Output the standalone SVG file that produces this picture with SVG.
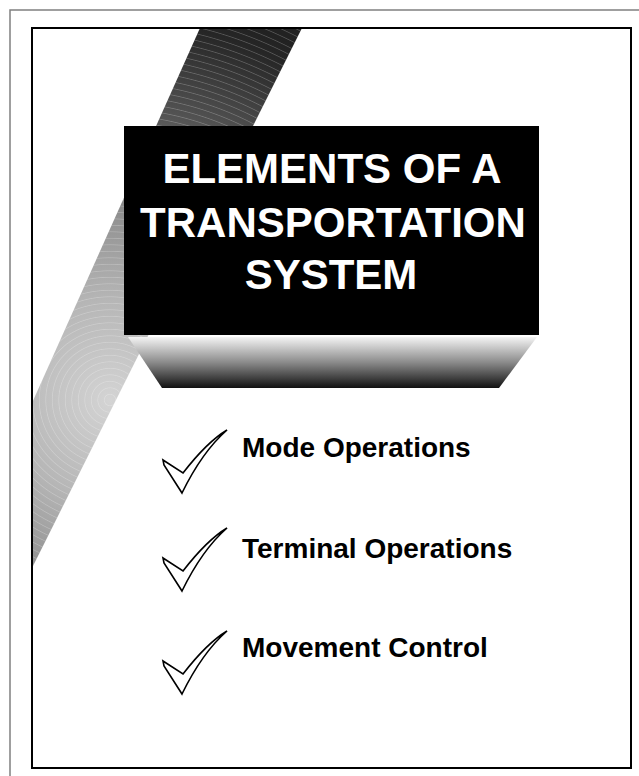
<svg xmlns="http://www.w3.org/2000/svg" width="639" height="776" viewBox="0 0 639 776">
<style>
.title{font-family:"Liberation Sans",Arial,sans-serif;font-weight:bold;font-size:42px;fill:#fff;text-anchor:middle}
.item{font-family:"Liberation Sans",Arial,sans-serif;font-weight:bold;font-size:28px;fill:#000}
.check{fill:#fff;stroke:#000;stroke-width:1.6;stroke-linejoin:miter}
</style>
<defs>
<radialGradient id="bandGrad" gradientUnits="userSpaceOnUse" cx="110" cy="400" r="400">
<stop offset="0" stop-color="#d4d4d4"/>
<stop offset="0.25" stop-color="#b6b6b6"/>
<stop offset="0.45" stop-color="#939393"/>
<stop offset="0.72" stop-color="#555"/>
<stop offset="0.95" stop-color="#262626"/>
<stop offset="1" stop-color="#222"/>
</radialGradient>
<radialGradient id="rings" gradientUnits="userSpaceOnUse" cx="110" cy="400" r="6.5" spreadMethod="repeat">
<stop offset="0" stop-color="#fff" stop-opacity="0"/>
<stop offset="0.75" stop-color="#fff" stop-opacity="0"/>
<stop offset="0.88" stop-color="#fff" stop-opacity="0.22"/>
<stop offset="1" stop-color="#fff" stop-opacity="0"/>
</radialGradient>
<linearGradient id="shadeGrad" x1="0" y1="0" x2="0" y2="1">
<stop offset="0" stop-color="#f4f4f4"/>
<stop offset="0.5" stop-color="#8a8a8a"/>
<stop offset="1" stop-color="#111"/>
</linearGradient>
<path id="tick" class="check" d="M-64,30 L-44,43 Q-20,12 0,0 Q-25,22 -45,63 L-63,35 Z"/>
</defs>
<rect width="639" height="776" fill="#fff"/>
<g id="frame">
<path d="M10,776 V10 H639" fill="none" stroke="#808080" stroke-width="1.5"/>
</g>
<g id="band">
<polygon points="200,28 302,28 32,568 32,403" fill="url(#bandGrad)"/>
<polygon points="200,28 302,28 32,568 32,403" fill="url(#rings)"/>
</g>
<g id="inner-frame">
<rect x="32" y="28" width="599" height="740" fill="none" stroke="#000" stroke-width="2"/>
</g>
<g id="title-box">
<polygon points="128,337 537,337 499,388 162,388" fill="url(#shadeGrad)"/>
<rect x="124" y="126" width="415" height="209" fill="#000"/>
<text class="title" x="332" y="183">ELEMENTS OF A</text>
<text class="title" x="333" y="237">TRANSPORTATION</text>
<text class="title" x="331" y="289">SYSTEM</text>
</g>
<g id="item-mode">
<use href="#tick" x="227" y="430"/>
<text class="item" x="242" y="457">Mode Operations</text>
</g>
<g id="item-terminal">
<use href="#tick" x="227" y="528"/>
<text class="item" x="242" y="558">Terminal Operations</text>
</g>
<g id="item-movement">
<use href="#tick" x="227" y="631"/>
<text class="item" x="242" y="657">Movement Control</text>
</g>
</svg>
